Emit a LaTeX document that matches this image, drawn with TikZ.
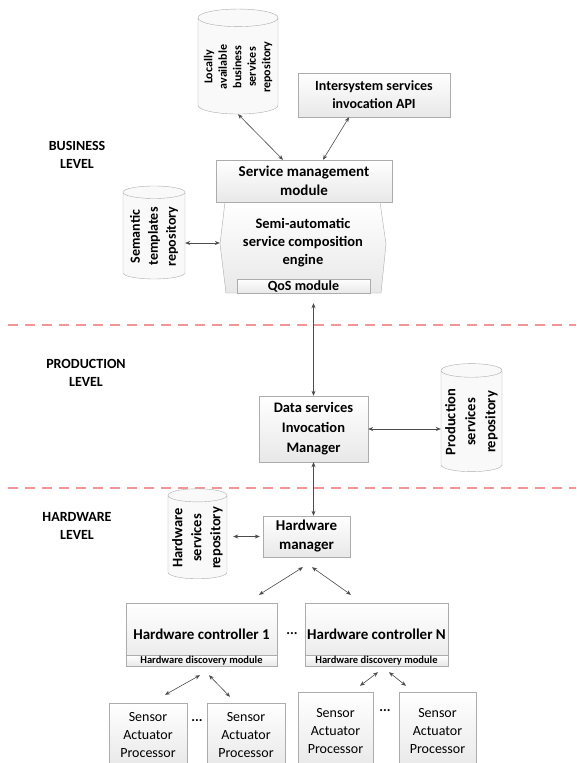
\documentclass[tikz,border=0pt]{standalone}
\usepackage{fontspec}
\setmainfont{Carlito}
\usetikzlibrary{shapes.geometric,arrows.meta}

\begin{document}
\begin{tikzpicture}[x=1pt, y=-1pt,
    box/.style={draw=gray!65, top color=white, bottom color=gray!18, align=center,
      inner sep=1pt, font=\bfseries\fontsize{15}{19}\selectfont},
    sensorbox/.style={box, font=\fontsize{14}{18}\selectfont},
    discbox/.style={box, inner sep=0pt, font=\bfseries\fontsize{10.5}{11}\selectfont},
    repo/.style={cylinder, shape aspect=0.25, rotate=90, draw=gray!65, fill=gray!5,
      align=center, inner sep=1pt, font=\bfseries\fontsize{14}{19}\selectfont},
    levelname/.style={align=center, font=\bfseries\fontsize{14}{18}\selectfont},
    link/.style={{Stealth[length=5pt,width=4pt]}-{Stealth[length=5pt,width=4pt]}, draw=black!70, line width=0.6pt},
    levelsep/.style={draw={rgb,255:red,240;green,150;blue,150}, line width=1.5pt, dash pattern=on 10pt off 7pt}
  ]
  \clip (0,0) rectangle (576,763);
  \fill[white] (0,0) rectangle (576,763);

  \draw[levelsep] (8,325) -- (576,325);
  \draw[levelsep] (8,488) -- (576,488);

  \node[levelname] (business) at (77,155) {BUSINESS\\LEVEL};
  \node[levelname] (production) at (86,373) {PRODUCTION\\LEVEL};
  \node[levelname] (hardware) at (77,526) {HARDWARE\\LEVEL};

  % business level
  \node[repo, minimum height=105pt, minimum width=80pt, font=\bfseries\fontsize{12}{14.5}\selectfont]
    (localrepo) at (238,67) {Locally\\available\\business\\services\\repository};
  \node[box, minimum width=152pt, minimum height=44pt, font=\bfseries\fontsize{14}{18}\selectfont]
    (api) at (374,95) {Intersystem services\\invocation API};
  \draw[top color=white, bottom color=gray!18, draw=gray!65]
    (225,202) -- (220,244) -- (226,293) -- (381,293) -- (386,244) -- (380,202) -- cycle;
  \node[box, minimum width=176pt, minimum height=42pt] (smm) at (304,181) {Service management\\module};
  \node[align=center, minimum width=166pt, font=\bfseries\fontsize{14.5}{18}\selectfont]
    (engine) at (303,243) {Semi-automatic\\service composition\\engine};
  \node[box, minimum width=133pt, minimum height=14pt, inner sep=0pt, font=\bfseries\fontsize{14}{14}\selectfont]
    (qos) at (303.5,286) {QoS module};
  \node[repo, minimum height=93pt, minimum width=62pt, font=\bfseries\fontsize{14}{18}\selectfont]
    (sem) at (154,236.5) {Semantic\\templates\\repository};

  \draw[link] ([xshift=-21pt]smm.north) -- (localrepo.west);
  \draw[link] ([xshift=19pt]smm.north) -- ([xshift=-25pt]api.south);
  \draw[link] (engine.west) -- (engine.west -| sem.south);

  % production level
  \node[box, minimum width=109pt, minimum height=66pt, font=\bfseries\fontsize{14.5}{20}\selectfont]
    (dsim) at (313.5,429) {Data services\\Invocation\\Manager};
  \node[repo, minimum height=108pt, minimum width=61pt, font=\bfseries\fontsize{14.5}{20}\selectfont]
    (prod) at (471.5,422) {Production\\services\\repository};

  \draw[link, shorten >=10pt] (dsim.north) -- (dsim.north |- qos.south);
  \draw[link] (dsim.east) -- (dsim.east -| prod.north);

  % hardware level
  \node[box, minimum width=87pt, minimum height=41pt] (hwm) at (306.5,536.5) {Hardware\\manager};
  \node[repo, minimum height=90pt, minimum width=59pt, font=\bfseries\fontsize{14.5}{19}\selectfont]
    (hwrepo) at (197.5,538) {Hardware\\services\\repository};

  \draw[link] (dsim.south) -- (dsim.south |- hwm.north);
  \draw[link, shorten <=3pt, shorten >=6pt] (hwm.west) -- (hwm.west -| hwrepo.south);

  \node[box, minimum width=151pt, minimum height=63pt] (hc1) at (201.5,634.5) {Hardware controller 1};
  \node[box, minimum width=143pt, minimum height=63pt] (hcn) at (376.5,634.5) {Hardware controller N};
  \node[discbox, minimum width=151pt, minimum height=11pt] (hd1) at (201.5,660.5) {Hardware discovery module};
  \node[discbox, minimum width=143pt, minimum height=11pt] (hdn) at (376.5,660.5) {Hardware discovery module};
  \node[font=\bfseries\fontsize{14}{14}\selectfont] (hcdots) at (292,634) {...};

  \draw[link] ([xshift=-3.5pt,yshift=-10pt]hwm.south) -- ([xshift=57.5pt,yshift=8pt]hc1.north);
  \draw[link] ([xshift=5.5pt,yshift=-10pt]hwm.south) -- ([xshift=-25.5pt,yshift=8pt]hcn.north);

  \node[sensorbox, minimum width=78pt, minimum height=64pt] (sap1) at (148,735) {Sensor\\Actuator\\Processor};
  \node[sensorbox, minimum width=78pt, minimum height=64pt] (sap2) at (246,735) {Sensor\\Actuator\\Processor};
  \node[sensorbox, minimum width=75pt, minimum height=78pt] (sap3) at (335.5,731) {Sensor\\Actuator\\Processor};
  \node[sensorbox, minimum width=77pt, minimum height=78pt] (sap4) at (437.5,731) {Sensor\\Actuator\\Processor};
  \node[font=\bfseries\fontsize{14}{14}\selectfont] (sapdots1) at (197,721) {...};
  \node[font=\bfseries\fontsize{14}{14}\selectfont] (sapdots2) at (385,711) {...};

  \draw[link] ([xshift=-1.5pt,yshift=-9pt]hd1.south) -- ([xshift=17pt,yshift=8pt]sap1.north);
  \draw[link] ([xshift=7.5pt,yshift=-9pt]hd1.south) -- ([xshift=-16pt,yshift=6pt]sap2.north);
  \draw[link] ([xshift=1.5pt,yshift=-6pt]hdn.south) -- ([xshift=24.5pt,yshift=6pt]sap3.north);
  \draw[link] ([xshift=12.5pt,yshift=-6pt]hdn.south) -- ([xshift=-31.5pt,yshift=6pt]sap4.north);
\end{tikzpicture}
\end{document}
